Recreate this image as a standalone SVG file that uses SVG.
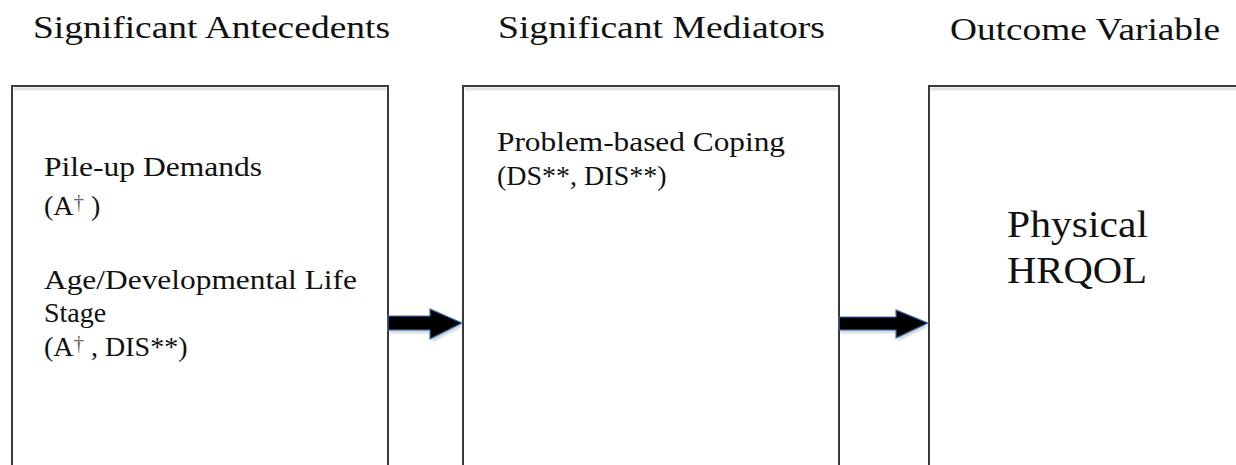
<svg xmlns="http://www.w3.org/2000/svg" width="1236" height="465" viewBox="0 0 1236 465">
  <style>
    text { font-family: "Liberation Serif", "DejaVu Serif", "Times New Roman", serif; fill: #111; }
    .title { font-size: 32px; }
    .body { font-size: 28px; }
    .big { font-size: 38px; }
    .box { fill: #fff; stroke: #3a3a3a; stroke-width: 2; }
    .shade { stroke: #e2e2e2; stroke-width: 3; }
    .dag { font-size: 21px; fill: #666; baseline-shift: 6px; }
    .arrow { fill: #000; stroke: #3f6fb5; stroke-width: 1.2; stroke-linejoin: miter; }
    .arrow-shadow { fill: #000; opacity: 0.18; }
  </style>
  <defs>
    <filter id="soft" x="-20%" y="-40%" width="140%" height="180%">
      <feGaussianBlur stdDeviation="1.6"/>
    </filter>
  </defs>

  <rect width="1236" height="465" fill="#fff"/>

  <!-- column headings -->
  <g id="headings">
    <text class="title" font-family="Liberation Serif, serif" x="33" y="38" textLength="357" lengthAdjust="spacingAndGlyphs">Significant Antecedents</text>
    <text class="title" font-family="Liberation Serif, serif" x="498" y="38" textLength="327" lengthAdjust="spacingAndGlyphs">Significant Mediators</text>
    <text class="title" font-family="Liberation Serif, serif" x="950" y="40" textLength="270" lengthAdjust="spacingAndGlyphs">Outcome Variable</text>
  </g>

  <!-- antecedents box -->
  <g id="antecedents">
    <rect class="box" x="12" y="86" width="376" height="400"/>
    <line class="shade" x1="14" y1="89" x2="386" y2="89"/>
    <text class="body" font-family="Liberation Serif, serif" x="44" y="176" textLength="218" lengthAdjust="spacingAndGlyphs">Pile-up Demands</text>
    <text class="body" font-family="Liberation Serif, serif" x="44" y="215">(A<tspan class="dag">†</tspan> )</text>
    <text class="body" font-family="Liberation Serif, serif" x="44" y="289" textLength="313" lengthAdjust="spacingAndGlyphs">Age/Developmental Life</text>
    <text class="body" font-family="Liberation Serif, serif" x="44" y="322">Stage</text>
    <text class="body" font-family="Liberation Serif, serif" x="44" y="356">(A<tspan class="dag">†</tspan> , DIS**)</text>
  </g>

  <!-- mediators box -->
  <g id="mediators">
    <rect class="box" x="463" y="86" width="376" height="400"/>
    <line class="shade" x1="465" y1="89" x2="837" y2="89"/>
    <text class="body" font-family="Liberation Serif, serif" x="497" y="151" textLength="288" lengthAdjust="spacingAndGlyphs">Problem-based Coping</text>
    <text class="body" font-family="Liberation Serif, serif" x="497" y="185">(DS**, DIS**)</text>
  </g>

  <!-- outcome box -->
  <g id="outcome">
    <rect class="box" x="929" y="86" width="340" height="400"/>
    <line class="shade" x1="931" y1="89" x2="1240" y2="89"/>
    <text class="big" font-family="Liberation Serif, serif" x="1007" y="237" textLength="141" lengthAdjust="spacingAndGlyphs">Physical</text>
    <text class="big" font-family="Liberation Serif, serif" x="1007" y="283" textLength="140" lengthAdjust="spacingAndGlyphs">HRQOL</text>
  </g>

  <!-- block arrows between columns -->
  <g id="connectors">
    <path class="arrow-shadow" filter="url(#soft)" d="M389 319 H432 V312 L463 326 L432 342 V333 H389 Z"/>
    <path class="arrow" d="M388 316 H430 V309 L462 323 L430 339 V330 H388 Z"/>
    <path class="arrow-shadow" filter="url(#soft)" d="M840 320 H898 V313 L929 326 L898 341 V333 H840 Z"/>
    <path class="arrow" d="M839 317 H896 V310 L928 323 L896 338 V330 H839 Z"/>
  </g>
</svg>
